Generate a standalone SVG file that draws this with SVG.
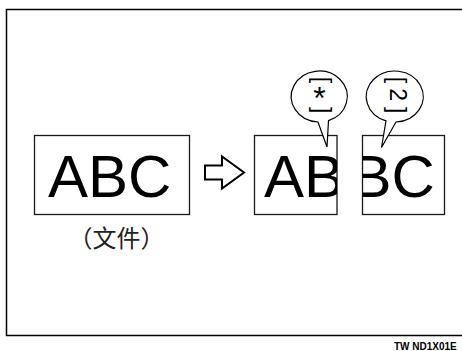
<svg xmlns="http://www.w3.org/2000/svg" width="462" height="351" viewBox="0 0 462 351">
<style>
.box{fill:#fff;stroke:#1a1a1a;stroke-width:1.3}
.big{font-family:"Liberation Sans",Arial,sans-serif;font-size:60px;fill:#000}
.bub{fill:#fff;stroke:#000;stroke-width:1.2;stroke-linejoin:miter}
.bt{font-family:"Liberation Sans",Arial,sans-serif;font-size:23px;fill:#000}
</style>
<defs>
<clipPath id="c1"><rect x="254.5" y="135.5" width="82.5" height="79"/></clipPath>
<clipPath id="c2"><rect x="362.5" y="135.5" width="82" height="79"/></clipPath>
</defs>
<rect x="6.5" y="9.5" width="470" height="326" fill="none" stroke="#000" stroke-width="1.5"/>
<g id="source">
<rect class="box" x="34.5" y="135.5" width="155" height="79"/>
<text class="big" x="48" y="197">ABC</text>
<text x="116.5" y="246.5" text-anchor="middle" font-family="'Noto Sans CJK TC','Noto Sans CJK SC',sans-serif" font-size="24" fill="#222">（文件）</text>
</g>
<g id="connectors">
<polygon points="205,165.5 222,165.5 222,156.5 244,172.5 222,188.5 222,179.5 205,179.5" fill="#fff" stroke="#000" stroke-width="2" stroke-linejoin="miter"/>
</g>
<g id="part1">
<rect class="box" x="254.5" y="135.5" width="82.5" height="79"/>
<text class="big" x="264" y="197" clip-path="url(#c1)">AB</text>
</g>
<g id="part2">
<rect class="box" x="362.5" y="135.5" width="82" height="79"/>
<text class="big" x="351.5" y="197" clip-path="url(#c2)">BC</text>
</g>
<g id="bubble1">
<path class="bub" d="M 328.5 120.6 A 28 25.5 0 1 0 318 122 L 327 147 Z"/>
<text class="bt" transform="translate(313.5 76.7) rotate(90)">[</text>
<text x="319.5" y="109" text-anchor="middle" font-family="'Liberation Sans',Arial,sans-serif" font-size="32">*</text>
<text class="bt" transform="translate(313.5 106.9) rotate(90)">]</text>
</g>
<g id="bubble2">
<path class="bub" d="M 396 122 A 28.5 25.5 0 1 0 386 120.8 L 381.5 147.5 Z"/>
<text class="bt" transform="translate(388.7 76.7) rotate(90)">[</text>
<text class="bt" transform="translate(389.5 88.3) rotate(90)">2</text>
<text class="bt" transform="translate(388.7 106.9) rotate(90)">]</text>
</g>
<text x="394" y="350" font-family="'Liberation Sans',Arial,sans-serif" font-size="10" font-weight="bold" fill="#000">TW ND1X01E</text>
</svg>
